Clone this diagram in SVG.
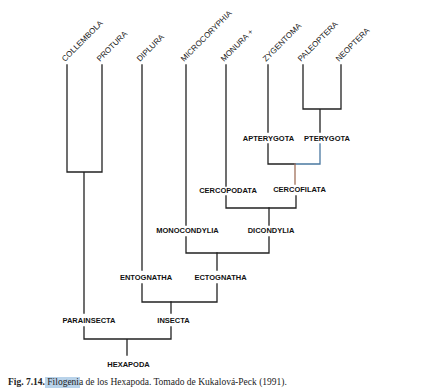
<svg xmlns="http://www.w3.org/2000/svg" width="442" height="391" viewBox="0 0 442 391">
<style>
.bg{fill:#ffffff}
.ln{stroke:#222;stroke-width:1.3;fill:none;stroke-linecap:square}
.leaf{font-family:"Liberation Sans",Arial,sans-serif;font-size:8px;fill:#222}
.lab{font-family:"Liberation Sans",Arial,sans-serif;font-size:7.5px;font-weight:bold;fill:#111;text-anchor:middle}
.cap{font-family:"Liberation Serif","Times New Roman",serif;font-size:9.5px;fill:#222}
</style>
<rect class="bg" x="0" y="0" width="442" height="391"/>
<g id="leaves">
<g id="collembola"><text class="leaf" x="65" y="62" transform="rotate(-45 65 62)">COLLEMBOLA</text></g>
<g id="protura"><text class="leaf" x="100" y="62" transform="rotate(-45 100 62)">PROTURA</text></g>
<g id="diplura"><text class="leaf" x="140" y="62" transform="rotate(-45 140 62)">DIPLURA</text></g>
<g id="microcoryphia"><text class="leaf" x="184" y="62" transform="rotate(-45 184 62)">MICROCORYPHIA</text></g>
<g id="monura"><text class="leaf" x="224" y="62" transform="rotate(-45 224 62)">MONURA +</text></g>
<g id="zygentoma"><text class="leaf" x="266" y="62" transform="rotate(-45 266 62)">ZYGENTOMA</text></g>
<g id="paleoptera"><text class="leaf" x="301" y="62" transform="rotate(-45 301 62)">PALEOPTERA</text></g>
<g id="neoptera"><text class="leaf" x="339" y="62" transform="rotate(-45 339 62)">NEOPTERA</text></g>
</g>
<g id="connectors">
<path class="ln" d="M67 65V172H102V65M84 172V313M84 327V339H171V327M171 313V302M127 339V355"/>
<path class="ln" d="M142 65V270M142 284V302H217V284M217 270V253"/>
<path class="ln" d="M186 65V225M186 237V253H269V237M269 225V208"/>
<path class="ln" d="M226 65V186M226 196V208H296V196"/>
<path class="ln" d="M268 65V132M268 144V164H295"/>
<path class="ln" d="M303 65V109H341V65M320 109V132"/>
<path class="ln" style="stroke:#4a78a0" d="M320 144V164H295"/>
<path class="ln" style="stroke:#a0705a" d="M295 164V184"/>
</g>
<g id="apterygota"><text class="lab" x="268.5" y="141">APTERYGOTA</text></g>
<g id="pterygota"><text class="lab" x="327" y="141">PTERYGOTA</text></g>
<g id="cercopodata"><text class="lab" x="228" y="193">CERCOPODATA</text></g>
<g id="cercofilata"><text class="lab" x="299.5" y="192">CERCOFILATA</text></g>
<g id="monocondylia"><text class="lab" x="187.5" y="232.5">MONOCONDYLIA</text></g>
<g id="dicondylia"><text class="lab" x="271" y="233">DICONDYLIA</text></g>
<g id="entognatha"><text class="lab" x="146" y="280">ENTOGNATHA</text></g>
<g id="ectognatha"><text class="lab" x="220.5" y="280">ECTOGNATHA</text></g>
<g id="parainsecta"><text class="lab" x="89" y="323">PARAINSECTA</text></g>
<g id="insecta"><text class="lab" x="173.5" y="323">INSECTA</text></g>
<g id="hexapoda"><text class="lab" x="128.5" y="367">HEXAPODA</text></g>
<rect x="45" y="377" width="35" height="11" fill="#b9d3ea"/>
<text class="cap" x="8" y="385"><tspan font-weight="bold">Fig. 7.14.</tspan> Filogenia de los Hexapoda. Tomado de Kukalová-Peck (1991).</text>
</svg>
